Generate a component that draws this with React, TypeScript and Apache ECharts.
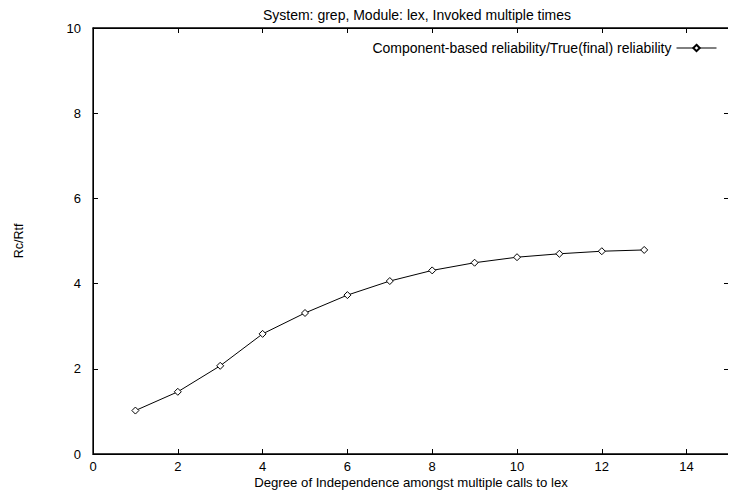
import React, { useEffect, useRef } from "react";
import * as echarts from "echarts";

const titleText = "System: grep, Module: lex, Invoked multiple times";
const seriesName = "Component-based reliability/True(final) reliability";
const xName = "Degree of Independence amongst multiple calls to lex";
const yName = "Rc/Rtf";
const degrees = [1, 2, 3, 4, 5, 6, 7, 8, 9, 10, 11, 12, 13];
const ratios = [1.02, 1.46, 2.07, 2.82, 3.31, 3.73, 4.06, 4.31, 4.49, 4.62, 4.70, 4.76, 4.79];

const W = 736;
const H = 498;
const G = { left: 93, top: 28, right: 7, bottom: 44 };

export default function App() {
  const ref = useRef<HTMLDivElement>(null);
  useEffect(() => {
    if (!ref.current) return;
    const chart = echarts.init(ref.current, null, { renderer: "svg" });
    const font = "'Liberation Sans', Arial, Helvetica, sans-serif";
    const axisCommon = {
      axisLine: { show: true, onZero: false, lineStyle: { color: "#000", width: 1 } },
      axisTick: { show: true, inside: true, length: 5, lineStyle: { color: "#000", width: 1 } },
      splitLine: { show: false },
    };
    chart.setOption({
      animation: false,
      backgroundColor: "#fff",
      textStyle: { fontFamily: font },
      title: {
        text: titleText,
        left: 412,
        top: 3,
        textAlign: "center",
        textStyle: { fontSize: 14, fontWeight: "normal", color: "#000", fontFamily: font },
      },
      legend: {
        data: [seriesName],
        right: 14,
        top: 36,
        align: "right",
        itemWidth: 40,
        itemHeight: 8,
        itemGap: 6,
        lineStyle: { width: 1 },
        textStyle: { fontSize: 14, color: "#000", fontFamily: font },
      },
      grid: { ...G, containLabel: false },
      graphic: [
        {
          type: "rect",
          silent: true,
          z: 0,
          shape: { x: G.left, y: G.top, width: W - G.left - G.right, height: H - G.top - G.bottom },
          style: { fill: "none", stroke: "#000", lineWidth: 1.3 },
        },
      ],
      xAxis: [
        {
          type: "value",
          min: 0,
          max: 15,
          interval: 2,
          name: xName,
          nameLocation: "middle",
          nameGap: 22,
          nameMoveOverlap: false,
          nameTextStyle: { fontSize: 13.2, color: "#000", fontFamily: font },
          axisLabel: { fontSize: 13, color: "#000", margin: 6, showMaxLabel: false, fontFamily: font },
          ...axisCommon,
        },
        {
          type: "value",
          position: "top",
          min: 0,
          max: 15,
          interval: 2,
          axisLabel: { show: false },
          ...axisCommon,
        },
      ],
      yAxis: [
        {
          type: "value",
          min: 0,
          max: 10,
          interval: 2,
          name: yName,
          nameLocation: "middle",
          nameGap: 68,
          nameMoveOverlap: false,
          nameTextStyle: { fontSize: 12.5, color: "#000", fontFamily: font },
          axisLabel: { fontSize: 13, color: "#000", margin: 12, fontFamily: font },
          ...axisCommon,
        },
        {
          type: "value",
          position: "right",
          min: 0,
          max: 10,
          interval: 2,
          axisLabel: { show: false },
          ...axisCommon,
        },
      ],
      series: [
        {
          name: seriesName,
          type: "line",
          data: degrees.map((d, i) => [d, ratios[i]]),
          symbol: "diamond",
          symbolSize: 7,
          showAllSymbol: true,
          lineStyle: { color: "#000", width: 1 },
          itemStyle: { color: "#fff", borderColor: "#000", borderWidth: 1 },
          emphasis: { disabled: true },
        },
      ],
    });
    return () => chart.dispose();
  }, []);
  return <div ref={ref} style={{ width: W, height: H, margin: -8 }} />;
}
